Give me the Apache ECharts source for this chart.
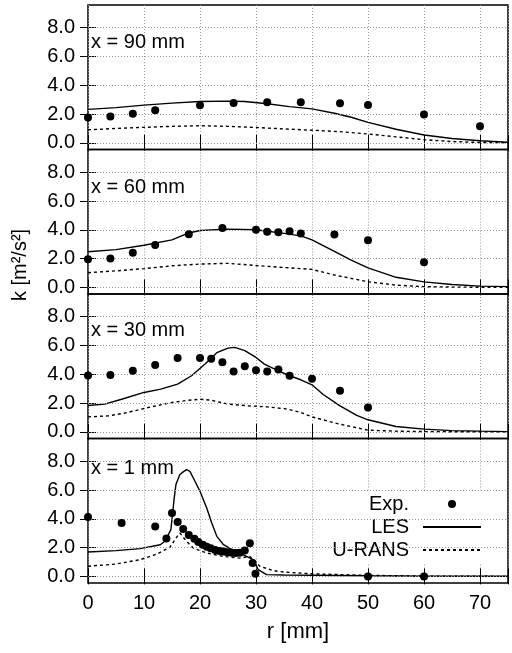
<!DOCTYPE html>
<html>
<head>
<meta charset="utf-8">
<script src="https://cdn.jsdelivr.net/npm/echarts@6/dist/echarts.min.js"></script>
<style>
  html, body { margin: 0; padding: 0; background: #fff; }
  #chart { width: 512px; height: 653px; }
</style>
</head>
<body>
<div id="chart"></div>
<script>
// panels from top to bottom
const panelLabels = ['x = 90 mm', 'x = 60 mm', 'x = 30 mm', 'x = 1 mm'];
const xTicks = [0, 10, 20, 30, 40, 50, 60, 70];
const yTicks = [0, 2, 4, 6, 8];

// [r (mm), k (m2/s2)]
const exp90 = [[0, 1.77], [4, 1.84], [8, 2.02], [12, 2.26], [20, 2.61], [26, 2.77], [32, 2.82], [38, 2.82], [45, 2.75], [50, 2.63], [60, 1.98], [70, 1.16]];
const les90 = [[0, 2.33], [5, 2.45], [10, 2.62], [15, 2.76], [20, 2.88], [25, 2.9], [28, 2.88], [32, 2.72], [36, 2.52], [40, 2.36], [44, 2.06], [47, 1.78], [50, 1.42], [55, 0.95], [60, 0.55], [65, 0.3], [70, 0.15], [75, 0.04]];
const rans90 = [[0, 0.91], [5, 1.0], [10, 1.08], [15, 1.15], [20, 1.19], [25, 1.15], [30, 1.07], [35, 0.97], [40, 0.88], [45, 0.78], [50, 0.62], [55, 0.42], [60, 0.22], [65, 0.09], [70, 0.03], [75, 0.01]];

const exp60 = [[0, 1.95], [4, 2.0], [8, 2.41], [12, 2.95], [18, 3.69], [24, 4.13], [30, 4.01], [32, 3.87], [34, 3.83], [36, 3.9], [38, 3.74], [44, 3.67], [50, 3.27], [60, 1.74]];
const les60 = [[0, 2.48], [5, 2.62], [10, 2.93], [15, 3.3], [18, 3.78], [20, 3.95], [25, 4.05], [30, 4.0], [35, 3.75], [38, 3.58], [40, 3.3], [44, 2.5], [47, 1.9], [50, 1.35], [55, 0.7], [60, 0.38], [65, 0.2], [70, 0.09], [75, 0.05]];
const rans60 = [[0, 1.02], [5, 1.15], [10, 1.3], [15, 1.5], [20, 1.62], [25, 1.67], [30, 1.52], [35, 1.38], [40, 1.25], [44, 0.86], [50, 0.39], [55, 0.16], [60, 0.05], [65, 0.02], [75, 0]];

const exp30 = [[0, 3.92], [4, 3.96], [8, 4.25], [12, 4.65], [16, 5.13], [20, 5.13], [22, 5.08], [24, 4.83], [26, 4.2], [28, 4.56], [30, 4.28], [32, 4.2], [34, 4.34], [36, 3.9], [40, 3.69], [45, 2.85], [50, 1.69]];
const les30 = [[0, 1.83], [3, 1.93], [6, 2.27], [10, 2.74], [13, 2.97], [16, 3.32], [18.5, 3.9], [21, 4.75], [23, 5.5], [25, 5.82], [26.2, 5.87], [28, 5.64], [30, 5.17], [31.5, 4.71], [34, 4.24], [36, 3.9], [38, 3.62], [40, 3.27], [42, 2.6], [45, 1.81], [48, 1.15], [50, 0.84], [55, 0.37], [60, 0.19], [65, 0.09], [70, 0.05], [75, 0.02]];
const rans30 = [[0, 1.04], [3.6, 1.11], [7, 1.34], [10.7, 1.69], [15, 2.04], [18, 2.2], [20, 2.27], [22, 2.2], [25, 1.93], [28.6, 1.81], [32, 1.74], [35.7, 1.58], [38, 1.35], [40, 1.04], [45, 0.53], [50, 0.12], [55, 0.05], [60, 0.02], [75, 0]];

const exp1 = [[0, 4.13], [6, 3.71], [12, 3.46], [14, 2.64], [15, 4.41], [16, 3.78], [17, 3.29], [18, 2.88], [19, 2.62], [19.7, 2.39], [20.5, 2.2], [21.2, 2.06], [21.9, 1.95], [22.7, 1.83], [23.5, 1.76], [24.2, 1.72], [24.9, 1.67], [25.7, 1.65], [26.4, 1.63], [27.1, 1.65], [28, 1.79], [28.9, 2.3], [29.4, 0.93], [29.9, 0.19], [50, 0], [60, 0]];
const les1 = [[0, 1.69], [5, 1.79], [9.3, 1.93], [12.9, 2.2], [13.75, 2.44], [14.8, 3.25], [15.1, 3.36], [15.4, 5.45], [15.7, 6.38], [16.4, 7.08], [17, 7.26], [17.6, 7.42], [18.2, 7.3], [19.1, 6.61], [20, 5.91], [21.2, 4.75], [22.1, 3.71], [23, 2.78], [24.2, 2.2], [25.4, 1.93], [27.1, 1.62], [28.3, 1.39], [29.5, 1.16], [30.4, 0.47], [30.9, 0.35], [31.9, 0.12], [35, 0.1], [40, 0.08], [50, 0.04], [60, 0.02], [75, 0.01]];
const rans1 = [[0, 0.7], [5, 0.86], [9.3, 1.16], [12.3, 1.55], [14.6, 2.02], [15.8, 2.71], [16.4, 3.01], [17.6, 2.44], [18.8, 1.97], [21.2, 1.62], [24.2, 1.39], [27.1, 1.27], [28.9, 1.39], [30.7, 0.7], [33.1, 0.4], [35, 0.3], [40, 0.18], [45, 0.12], [50, 0.07], [60, 0.02], [75, 0]];

const expData = [exp90, exp60, exp30, exp1];
const lesData = [les90, les60, les30, les1];
const ransData = [rans90, rans60, rans30, rans1];

const FONT = '"Liberation Sans", Arial, sans-serif';
const gridTop = [5, 149.5, 294, 438.5];
const gridH = 144.5;
const labelY = [43, 188, 331, 469];
const yMin = -0.46, yMax = 9.58;

const chart = echarts.init(document.getElementById('chart'), null, { renderer: 'canvas' });

const grids = [], xAxes = [], yAxes = [], series = [];
for (let i = 0; i < 4; i++) {
  grids.push({
    left: 88, right: 4, top: gridTop[i], height: gridH,
    show: true, borderColor: '#000', borderWidth: 1.5, backgroundColor: 'transparent'
  });
}
// bottom x axes
for (let i = 0; i < 4; i++) {
  xAxes.push({
    type: 'value', gridIndex: i, min: 0, max: 75, interval: 10,
    axisLine: { show: false },
    axisTick: { show: true, inside: true, length: 8, lineStyle: { color: '#000', width: 1 } },
    axisLabel: {
      show: i === 3, color: '#000', fontSize: 20, fontFamily: FONT, margin: 10,
      formatter: v => (v > 70 ? '' : String(v))
    },
    splitLine: { show: true, lineStyle: { color: '#999', type: [1, 2], width: 1 } },
    name: i === 3 ? 'r [mm]' : '', nameLocation: 'middle', nameGap: 38,
    nameTextStyle: { color: '#000', fontSize: 22, fontFamily: FONT }
  });
}
// top x axes (mirror ticks)
for (let i = 0; i < 4; i++) {
  xAxes.push({
    type: 'value', gridIndex: i, position: 'top', min: 0, max: 75, interval: 10,
    axisLine: { show: false },
    axisTick: { show: true, inside: true, length: 8, lineStyle: { color: '#000', width: 1 } },
    axisLabel: { show: false }, splitLine: { show: false }
  });
}
// left y axes
for (let i = 0; i < 4; i++) {
  yAxes.push({
    type: 'value', gridIndex: i, min: yMin, max: yMax,
    axisLine: { show: false },
    axisTick: { show: true, inside: true, length: 8, customValues: yTicks, lineStyle: { color: '#000', width: 1 } },
    axisLabel: {
      color: '#000', fontSize: 20, fontFamily: FONT, margin: 13, customValues: yTicks,
      formatter: v => v.toFixed(1)
    },
    splitLine: { show: false }
  });
}
// right y axes (mirror ticks)
for (let i = 0; i < 4; i++) {
  yAxes.push({
    type: 'value', gridIndex: i, position: 'right', min: yMin, max: yMax,
    axisLine: { show: false },
    axisTick: { show: true, inside: true, length: 8, customValues: yTicks, lineStyle: { color: '#000', width: 1 } },
    axisLabel: { show: false }, splitLine: { show: false }
  });
}

for (let i = 0; i < 4; i++) {
  series.push({
    name: 'U-RANS', type: 'line', xAxisIndex: i, yAxisIndex: i,
    data: ransData[i], symbol: 'none', smooth: false,
    itemStyle: { color: '#000' },
    lineStyle: { color: '#000', width: 1.4, type: [3, 3] },
    markLine: {
      silent: true, symbol: ['none', 'none'], label: { show: false },
      lineStyle: { color: '#999', type: [1, 2], width: 1 },
      data: yTicks.map(v => ({ yAxis: v }))
    },
    z: 3
  });
  series.push({
    name: 'LES', type: 'line', xAxisIndex: i, yAxisIndex: i,
    data: lesData[i], symbol: 'none',
    itemStyle: { color: '#000' },
    lineStyle: { color: '#000', width: 1.4 },
    z: 4
  });
  series.push({
    name: 'Exp.', type: 'scatter', xAxisIndex: i, yAxisIndex: i,
    data: expData[i], symbol: 'circle', symbolSize: 8,
    itemStyle: { color: '#000', opacity: 1 },
    z: 5
  });
}

const graphics = panelLabels.map((t, i) => ({
  type: 'text', left: 91, top: labelY[i] - 11,
  style: { text: t, fontSize: 20, fontFamily: FONT, fill: '#000' },
  z: 10
}));
graphics.push({
  type: 'text', x: 20, y: 265, rotation: Math.PI / 2,
  style: { text: 'k [m²/s²]', fontSize: 20, fontFamily: FONT, fill: '#000', align: 'center', verticalAlign: 'middle' }
});

chart.setOption({
  animation: false,
  backgroundColor: '#fff',
  grid: grids,
  xAxis: xAxes,
  yAxis: yAxes,
  series: series,
  graphic: graphics,
  legend: {
    orient: 'vertical', align: 'right', right: 22, top: 490,
    backgroundColor: '#fff', padding: [4, 8, 4, 3],
    itemWidth: 58, itemHeight: 8, itemGap: 3,
    selectedMode: false,
    textStyle: { color: '#000', fontSize: 20, fontFamily: FONT, lineHeight: 18, padding: [0, 9, 0, 0] },
    data: [
      { name: 'Exp.', icon: 'circle', itemStyle: { color: '#000', opacity: 1 } },
      { name: 'LES', itemStyle: { opacity: 0 } },
      { name: 'U-RANS', itemStyle: { opacity: 0 } }
    ]
  }
});
</script>
</body>
</html>
